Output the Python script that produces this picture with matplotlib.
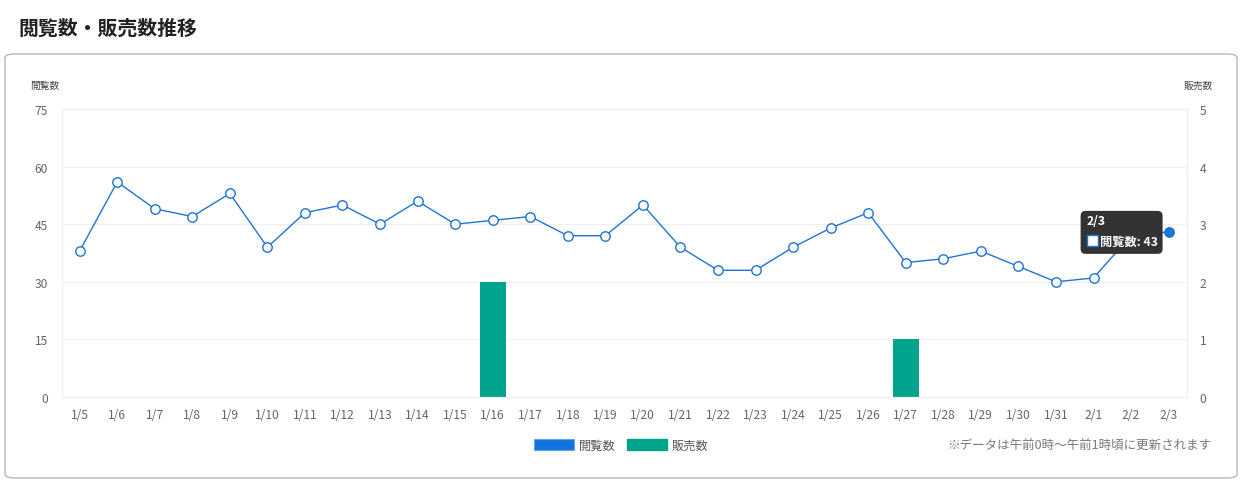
import numpy as np
import matplotlib
matplotlib.use("Agg")
import matplotlib.pyplot as plt
from matplotlib.patches import FancyBboxPatch, Rectangle, Patch
from matplotlib.transforms import ScaledTranslation

plt.rcParams['font.family'] = ['Noto Sans CJK JP', 'DejaVu Sans']

dates = ['1/5', '1/6', '1/7', '1/8', '1/9', '1/10', '1/11', '1/12', '1/13', '1/14',
         '1/15', '1/16', '1/17', '1/18', '1/19', '1/20', '1/21', '1/22', '1/23', '1/24',
         '1/25', '1/26', '1/27', '1/28', '1/29', '1/30', '1/31', '2/1', '2/2', '2/3']
views = [38, 56, 49, 47, 53, 39, 48, 50, 45, 51, 45, 46, 47, 42, 42, 50, 39, 33, 33, 39,
         44, 48, 35, 36, 38, 34, 30, 31, 42, 43]
sales = [0, 0, 0, 0, 0, 0, 0, 0, 0, 0, 0, 2, 0, 0, 0, 0, 0, 0, 0, 0,
         0, 0, 1, 0, 0, 0, 0, 0, 0, 0]

view_ticks = [0, 15, 30, 45, 60, 75]
sale_ticks = [0, 1, 2, 3, 4, 5]

line_c = '#1f74d6'
bar_c = '#00a48c'
tick_c = '#666666'
grid_c = '#efefef'

W, H = 1243, 485
fig = plt.figure(figsize=(W / 100, H / 100), dpi=100)

# card frame
card = FancyBboxPatch((5 / W, 6 / H), 1232 / W, 424 / H,
                      boxstyle="round,pad=0,rounding_size=0.008",
                      transform=fig.transFigure, facecolor='white',
                      edgecolor='#b4b8bc', linewidth=1.0, zorder=-10)
fig.patches.append(card)

fig.text(18 / W, 1 - 28 / H, '閲覧数・販売数推移', fontsize=14.3, fontweight='bold',
         color='#222222', ha='left', va='center')

ax = fig.add_axes([62 / W, (H - 398) / H, 1125 / W, 288 / H])
ax2 = ax.twinx()

x = np.arange(len(dates))

ax2.bar(x, sales, width=0.7, color=bar_c, zorder=2)
ax.plot(x, views, color=line_c, lw=1.0, zorder=3)
ax.plot(x[:-1], views[:-1], 'o', ms=6.8, mfc='white', mec=line_c, mew=1.0, zorder=4)
ax.plot(x[-1:], views[-1:], 'o', ms=6.8, mfc=line_c, mec=line_c, mew=1.0, zorder=4)

ax.set_zorder(ax2.get_zorder() + 1)
ax.patch.set_visible(False)
ax2.patch.set_visible(False)

ax.set_xlim(-0.47, len(dates) - 0.51)
ax.set_ylim(0, 75)
ax2.set_ylim(0, 5)
ax.set_yticks(view_ticks)
ax2.set_yticks(sale_ticks)
ax.set_xticks(x)
ax.set_xticklabels(dates)

# grid lives on the bar axes so bars cover it
ax2.grid(axis='y', color=grid_c, lw=0.8)
ax2.set_axisbelow(True)
for a in (ax, ax2):
    for s in a.spines.values():
        s.set_color(grid_c)
        s.set_linewidth(0.8)
    a.tick_params(length=0, labelsize=8.7, labelcolor=tick_c)
ax.tick_params(axis='x', pad=8)
ax.tick_params(axis='y', pad=10)
ax2.tick_params(axis='y', pad=9)

fig.text(30 / W, 1 - 86 / H, '閲覧数', fontsize=7, color='#444444', ha='left', va='center')
fig.text(1213 / W, 1 - 86 / H, '販売数', fontsize=7, color='#444444', ha='right', va='center')

# tooltip for the hovered last point
tr = fig.dpi_scale_trans + ScaledTranslation(x[-1], views[-1], ax.transData)
tip = FancyBboxPatch((-88 / 100, -22 / 100), 82 / 100, 43 / 100,
                     boxstyle="round,pad=0,rounding_size=0.05", transform=tr,
                     facecolor='#333333', edgecolor='none', zorder=10, clip_on=False)
ax.add_artist(tip)
ax.text(-82 / 100, 11 / 100, dates[-1], transform=tr, color='white', fontsize=8.8,
        fontweight='bold', ha='left', va='center', zorder=11)
ax.add_artist(Rectangle((-82 / 100, -14 / 100), 11 / 100, 11 / 100, transform=tr,
                        facecolor='white', edgecolor=line_c, lw=1, zorder=11,
                        clip_on=False))
ax.text(-69 / 100, -9 / 100, f'閲覧数: {views[-1]}', transform=tr, color='white',
        fontsize=8.8, fontweight='bold', ha='left', va='center', zorder=11)

handles = [Patch(facecolor='#1273de', edgecolor='#5fa2ee', lw=0.8, label='閲覧数'),
           Patch(facecolor=bar_c, edgecolor=bar_c, label='販売数')]
fig.legend(handles=handles, loc='center', bbox_to_anchor=(621 / W, (H - 446) / H),
           ncol=2, frameon=False, fontsize=8.8, handlelength=3.3, handleheight=1.0,
           handletextpad=0.4, columnspacing=0.9, labelcolor='#555555')

fig.text(1211 / W, 1 - 446 / H, '※データは午前0時～午前1時頃に更新されます', fontsize=9,
         color='#777777', ha='right', va='center')

fig.savefig('out.png', dpi=100)
